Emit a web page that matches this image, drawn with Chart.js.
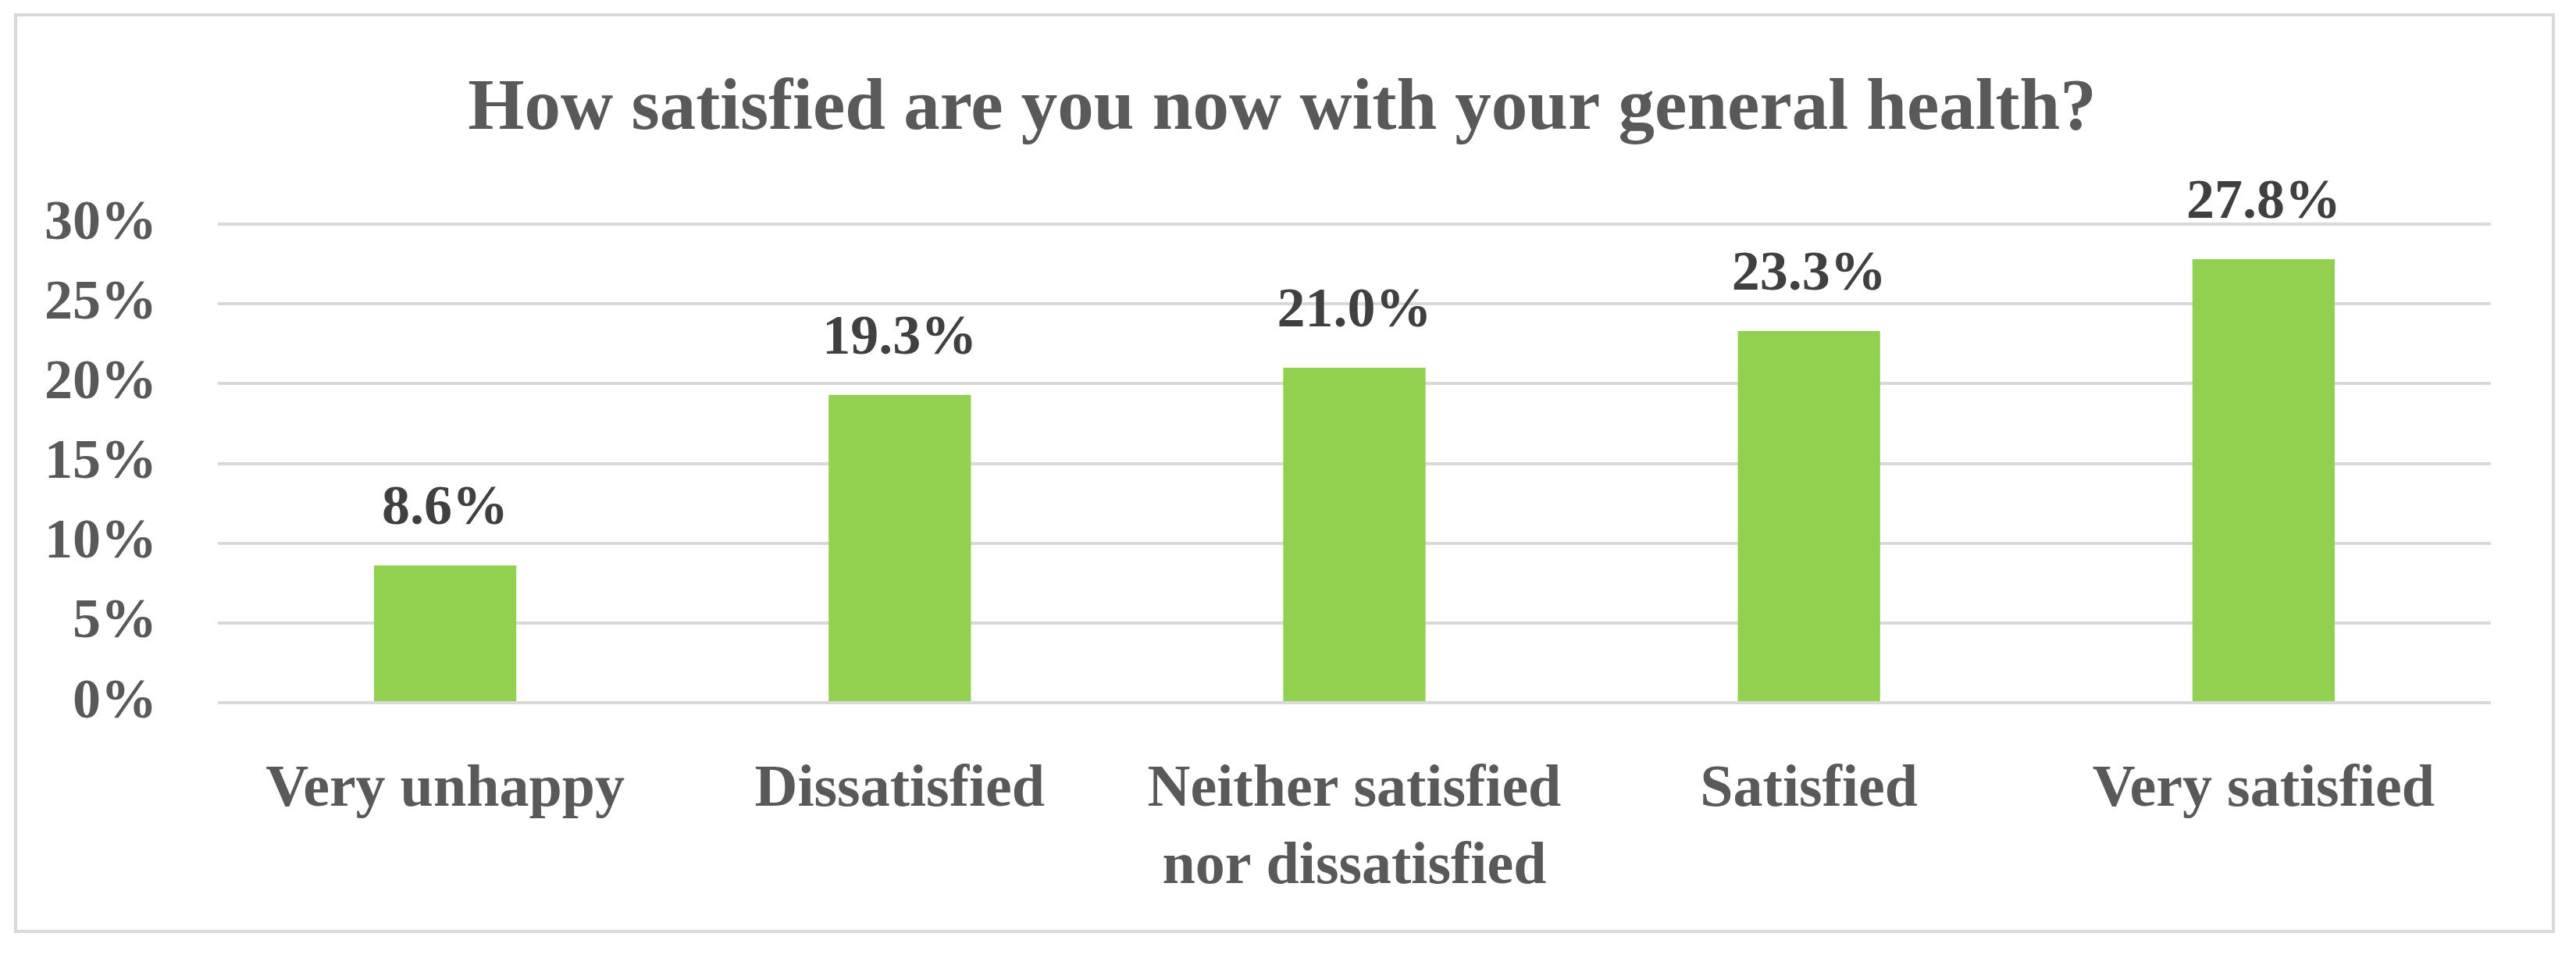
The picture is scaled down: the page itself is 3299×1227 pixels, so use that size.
<!DOCTYPE html>
<html>
<head>
<meta charset="utf-8">
<title>How satisfied are you now with your general health?</title>
<script src="https://cdn.jsdelivr.net/npm/chart.js@4.4.1/dist/chart.umd.min.js"></script>
<style>
    html, body { margin: 0; padding: 0; background: #ffffff; }
    #wrap { position: relative; width: 3299px; height: 1227px; overflow: hidden; }
    #frame {
        position: absolute; left: 18px; top: 17px; width: 3254px; height: 1178px;
        border: 4px solid #d9d9d9; box-sizing: border-box; pointer-events: none;
    }
    #myChart { position: absolute; left: 0; top: 0; }
</style>
</head>
<body>
<div id="wrap">
    <div id="frame"></div>
    <canvas id="myChart" width="3299" height="1227"></canvas>
</div>
<script>
/* 데이터 */
const categories = ["Very unhappy", "Dissatisfied", ["Neither satisfied", "nor dissatisfied"], "Satisfied", "Very satisfied"];
const values = [8.6, 19.3, 21.0, 23.3, 27.8];
const yTicks = [0, 5, 10, 15, 20, 25, 30];
const titleText = "How satisfied are you now with your general health?";

const fontName = "'Liberation Serif', 'Times New Roman', serif";

/* 제목 - 테두리 상자 가운데 */
const chartTitle = {
    id: 'chartTitle',
    afterDraw(chart) {
        const ctx = chart.ctx;
        ctx.save();
        ctx.font = "bold 93px " + fontName;
        ctx.fillStyle = "#595959";
        ctx.textAlign = "center";
        ctx.textBaseline = "alphabetic";
        ctx.fillText(titleText, 1642, 165);
        ctx.restore();
    }
};

/* 막대 위 값 표시 */
const valueLabels = {
    id: 'valueLabels',
    afterDatasetsDraw(chart) {
        const ctx = chart.ctx;
        const meta = chart.getDatasetMeta(0);
        ctx.save();
        ctx.font = "bold 72px " + fontName;
        ctx.fillStyle = "#404040";
        ctx.textAlign = "center";
        ctx.textBaseline = "alphabetic";
        meta.data.forEach((bar, i) => {
            ctx.fillText(values[i].toFixed(1) + "%", bar.x, bar.y - 53);
        });
        ctx.restore();
    }
};

const chartArea = document.getElementById("myChart").getContext('2d');
const myChart = new Chart(chartArea, {
    type: 'bar',
    data: {
        labels: categories,
        datasets: [{
            data: values,
            backgroundColor: "#92d050",
            borderWidth: 0,
            categoryPercentage: 1,
            barPercentage: 0.313
        }]
    },
    plugins: [valueLabels, chartTitle],
    options: {
        responsive: false,
        animation: false,
        devicePixelRatio: 1,
        layout: {
            // 위쪽은 제목 자리
            padding: { left: 0, right: 109, top: 287, bottom: 0 }
        },
        plugins: {
            legend: { display: false },
            tooltip: { enabled: false },
            title: { display: false }
        },
        scales: {
            x: {
                grid: { display: false },
                border: { display: false },
                ticks: {
                    color: "#595959",
                    font: { family: fontName, size: 76, weight: 'bold', lineHeight: 1.3 },
                    padding: 55,
                    maxRotation: 0,
                    autoSkip: false
                },
                afterFit(scale) { scale.height = 327; }
            },
            y: {
                min: yTicks[0],
                max: yTicks[yTicks.length - 1],
                grid: { color: "#d9d9d9", lineWidth: 4, drawTicks: false },
                border: { display: false },
                ticks: {
                    stepSize: 5,
                    color: "#595959",
                    font: { family: fontName, size: 72, weight: 'bold' },
                    padding: 78,
                    callback: (v) => v + "%"
                },
                afterFit(scale) { scale.width = 279; }
            }
        }
    }
});
</script>
</body>
</html>
